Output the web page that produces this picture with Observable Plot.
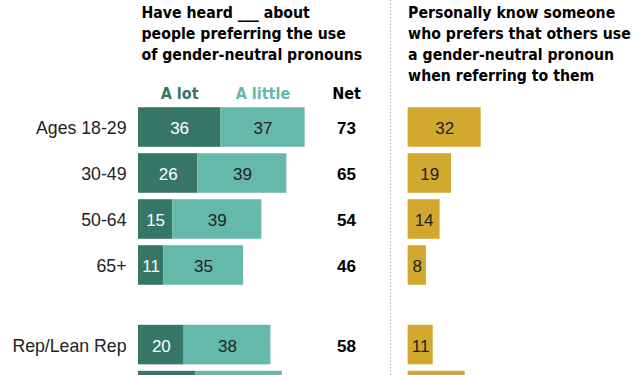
<!DOCTYPE html>
<html>
<head>
<meta charset="utf-8">
<script src="https://cdn.jsdelivr.net/npm/d3@7"></script>
<script src="https://cdn.jsdelivr.net/npm/@observablehq/plot@0.6"></script>
<style>
  html, body { margin: 0; padding: 0; background: #fff; overflow: hidden; }
  #chart svg { display: block; }
</style>
</head>
<body>
<div id="chart"></div>
<script>
// ---- data ----
const groups  = ["Ages 18-29", "30-49", "50-64", "65+", "Rep/Lean Rep", "Dem/Lean Dem"];
const section = ["age", "age", "age", "age", "party", "party"];
const aLot    = [36, 26, 15, 11, 20, 25];
const aLittle = [37, 39, 39, 35, 38, 38];
const net     = [73, 65, 54, 46, 58, 63];
const know    = [32, 19, 14, 8, 11, 25];
const leftTitle  = "Have heard ___ about\npeople preferring the use\nof gender-neutral pronouns";
const rightTitle = "Personally know someone\nwho prefers that others use\na gender-neutral pronoun\nwhen referring to them";
const headers = ["A lot", "A little", "Net"];

// ---- layout constants ----
const sectionGap = 0.73;     // extra row space between the two groups
const half = 0.43;           // half bar thickness in row units
const goldOffset = 118.1;    // where the right-hand panel starts (value units)
const netX = 91.1;
const dividerX = 110.4;
const dark = "#357667", light = "#65b9aa", gold = "#d3a82f";
const H = 375, rowTop = 127, rowStep = 46;

const rows = groups.map((g, i) => ({
  group: g,
  row: i + (section[i] === "party" ? sectionGap : 0),
  aLot: aLot[i], aLittle: aLittle[i], net: net[i], know: know[i]
}));
// labels only for rows whose text falls inside the picture (the last row is cropped)
const labelled = rows.filter(d => rowTop + rowStep * d.row + 9 < H);

const sans = "'Liberation Sans', Arial, sans-serif";
const narrow = "'DejaVu Sans Condensed', 'Liberation Sans Narrow', sans-serif";

const chart = Plot.plot({
  width: 640,
  height: H,
  margin: 0,
  style: { fontFamily: sans, background: "#fff", overflow: "hidden" },
  x: { domain: [0, 100], range: [138, 366.3], axis: null },
  y: { domain: [0, 1], range: [rowTop, rowTop + rowStep], axis: null },
  marks: [
    Plot.ruleX([dividerX], { stroke: "#9a9a9a", strokeDasharray: "1.2,2.2", strokeWidth: 1 }),
    // A lot
    Plot.rect(rows, { x1: 0, x2: "aLot", y1: d => d.row - half, y2: d => d.row + half, fill: dark }),
    // A little
    Plot.rect(rows, { x1: "aLot", x2: d => d.aLot + d.aLittle, y1: d => d.row - half, y2: d => d.row + half, fill: light }),
    // know someone
    Plot.rect(rows, { x1: goldOffset, x2: d => goldOffset + d.know, y1: d => d.row - half, y2: d => d.row + half, fill: gold }),
    // values
    Plot.text(labelled, { x: d => d.aLot / 2, y: "row", text: "aLot", fill: "#fff", fontSize: 17, dy: 1 }),
    Plot.text(labelled, { x: d => d.aLot + d.aLittle / 2, y: "row", text: "aLittle", fill: "#222", fontSize: 17, dy: 1 }),
    Plot.text(labelled, { x: d => goldOffset + d.know / 2, y: "row", text: "know", fill: "#222", fontSize: 17, dy: 1 }),
    Plot.text(labelled, { x: netX, y: "row", text: "net", fill: "#000", fontSize: 17, fontWeight: "bold", dy: 1 }),
    // row labels
    Plot.text(labelled, { x: 0, y: "row", text: "group", textAnchor: "end", dx: -12, fill: "#222", fontSize: 17.7, dy: 1 }),
    // column headers
    Plot.text([headers[0]], { x: 18, y: -0.74, text: d => d, fill: dark, fontSize: 16, fontWeight: "bold", fontFamily: narrow }),
    Plot.text([headers[1]], { x: 54.5, y: -0.74, text: d => d, fill: light, fontSize: 16, fontWeight: "bold", fontFamily: narrow }),
    Plot.text([headers[2]], { x: netX, y: -0.74, text: d => d, fill: "#000", fontSize: 16, fontWeight: "bold", fontFamily: narrow }),
    // titles
    Plot.text([leftTitle], { x: 0, y: -2.70, text: d => d, textAnchor: "start", lineAnchor: "top", dx: 3, fontSize: 15.7, fontWeight: "bold", fontFamily: narrow, fill: "#000", lineHeight: 1.34 }),
    Plot.text([rightTitle], { x: goldOffset, y: -2.70, text: d => d, textAnchor: "start", lineAnchor: "top", dx: 0, fontSize: 15.7, fontWeight: "bold", fontFamily: narrow, fill: "#000", lineHeight: 1.34 })
  ]
});
document.getElementById("chart").append(chart);
</script>
</body>
</html>
